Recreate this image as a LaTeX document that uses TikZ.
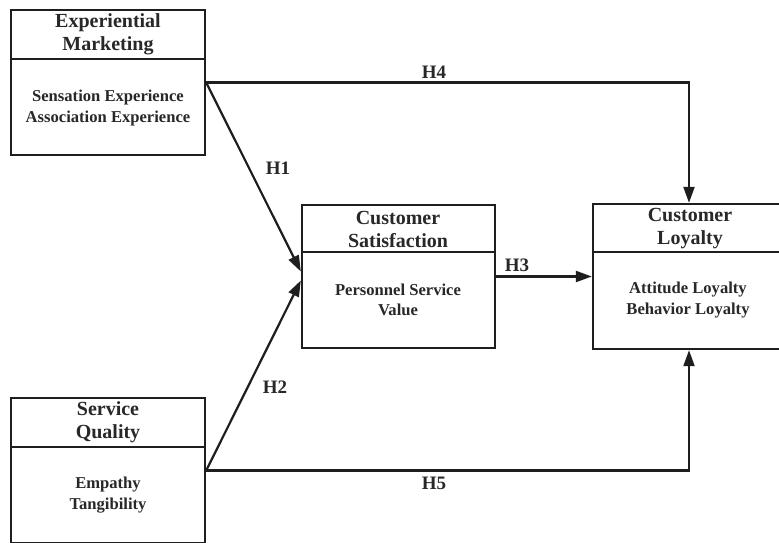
\documentclass[tikz,border=0pt]{standalone}
\usepackage{fontspec}
\setmainfont{Liberation Serif}
\usetikzlibrary{arrows.meta}
\definecolor{ink}{RGB}{30,30,30}
\definecolor{txt}{RGB}{40,40,40}
\tikzset{
  box/.style={draw=ink, line width=2.4pt, rectangle, minimum width=194pt, minimum height=145pt, inner sep=0pt},
  divider/.style={draw=ink, line width=2.4pt},
  ttl/.style={text=txt, font=\fontsize{20}{23}\selectfont\bfseries, align=center, inner sep=0pt},
  bdy/.style={text=txt, font=\fontsize{16.6}{20.5}\selectfont\bfseries, align=center, inner sep=0pt},
  hyp/.style={text=txt, font=\fontsize{19}{22}\selectfont\bfseries, inner sep=0pt},
  conn/.style={draw=ink, line width=2.2pt, -{Triangle[length=16pt,width=11pt]}},
}
\begin{document}
\begin{tikzpicture}[x=1pt,y=-1pt]
\useasboundingbox (0,0) rectangle (779,542);
\clip (0,0) rectangle (779,542);
\fill[white] (0,0) rectangle (779,542);
% boxes
\node[box] (em) at (108,82.5) {};
\node[box] (sq) at (108,470.5) {};
\node[box, minimum width=193pt, minimum height=143pt] (cs) at (398.5,276.5) {};
\node[box, minimum width=192pt, minimum height=145pt] (ly) at (689,276.5) {};
% dividers
\draw[divider] (em.west |- 0,59) -- (em.east |- 0,59);
\draw[divider] (sq.west |- 0,447) -- (sq.east |- 0,447);
\draw[divider] (cs.west |- 0,252) -- (cs.east |- 0,252);
\draw[divider] (ly.west |- 0,252) -- (ly.east |- 0,252);
% titles
\node[ttl] (emt) at (108,34) {Experiential\\Marketing};
\node[ttl] (sqt) at (108,422) {Service\\Quality};
\node[ttl] (cst) at (398,229) {Customer\\Satisfaction};
\node[ttl] (lyt) at (690,229) {Customer\\Loyalty};
% bodies
\node[bdy] (emb) at (108,108) {Sensation Experience\\Association Experience};
\node[bdy] (sqb) at (108,495) {Empathy\\Tangibility};
\node[bdy] (csb) at (398,300) {Personnel Service\\Value};
\node[bdy] (lyb) at (688,300) {Attitude Loyalty\\Behavior Loyalty};
% connectors
\draw[conn] (em.east) -- ([yshift=5pt]cs.west);
\draw[conn] (sq.east) -- ([yshift=-4pt]cs.west);
\draw[conn] (cs.east) -- (ly.west);
\draw[conn] (em.east) -| (ly.north);
\draw[conn] (sq.east) -| (ly.south);
% labels
\node[hyp] (h4) at (434,72) {H4};
\node[hyp] (h1) at (278,168) {H1};
\node[hyp] (h3) at (517,265) {H3};
\node[hyp] (h2) at (275,387) {H2};
\node[hyp] (h5) at (434,483) {H5};
\end{tikzpicture}
\end{document}
